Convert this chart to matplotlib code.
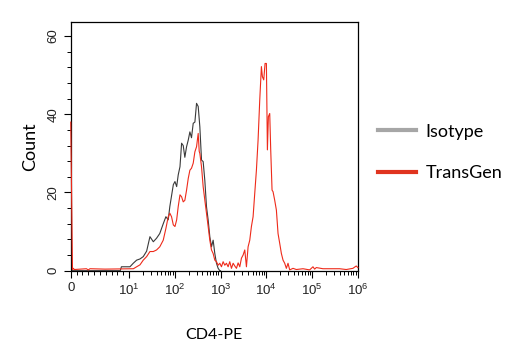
import matplotlib
matplotlib.use("Agg")
import matplotlib.pyplot as plt
from matplotlib.lines import Line2D
import numpy as np

# ---- data (channel value, count) ----
iso_x = [0, 8.5, 8.7, 10.5, 12.4, 14.7, 17.4, 20.5, 24.3, 28.7, 34, 40, 47, 56, 64, 72,
         78, 93, 101, 110, 119, 130, 141, 153, 166, 181, 197, 214, 232, 253, 275, 299,
         325, 353, 384, 417, 454, 493, 536, 583, 634, 689, 749, 815, 886, 963, 1000]
iso_y = [0, 0, 1.0, 1.0, 1.9, 2.7, 3.0, 3.6, 5.0, 8.7, 7.4, 8.3, 9.5, 12, 13.8, 13,
         16.4, 22, 22.8, 21.5, 24.5, 26.6, 32.6, 32, 29, 31.7, 33.4, 35.5, 34, 37.7, 38, 42.8,
         42, 36.8, 28.3, 27.9, 23, 16.4, 13, 8.7, 6.1, 7.8, 4.4, 1.9, 0.6, 0, 0]

tg_x = [0, 0.3, 0.46, 0.6, 2.7, 3.0, 3.3, 5.9, 12.5, 14.7, 17.4, 20.5, 24.3, 28.7, 34, 40,
        47, 56, 64, 72, 78, 85, 93, 101, 110, 119, 130, 141, 153, 166, 181, 197,
        214, 232, 253, 275, 299, 325, 342, 353, 384, 417, 454, 493, 536, 583, 634, 689,
        749, 815, 886, 963, 1047, 1138, 1238, 1345, 1463, 1590, 1731, 1883, 2047, 2226, 2420, 2631,
        2860, 3110, 3381, 3676, 3996, 4346, 4724, 5138, 5586, 6072, 6603, 7179, 7804, 8207, 8777, 9384,
        10035, 10550, 11093, 11862, 12469, 13335, 14022, 15245, 16580, 18026, 19601, 21311, 23168, 25190, 27384, 29770,
        32370, 38260, 45230, 63230, 88370, 104450, 113570, 123500, 172560, 285000, 398500, 556800, 778000, 919800, 1000000]
tg_y = [38, 0.3, 0.6, 0.3, 0.5, 0.2, 0.5, 0.4, 0.5, 1.0, 1.5, 2.7, 3.6, 4.9, 4.9, 5.3,
        6.1, 7.8, 10.8, 13.8, 14.7, 13.8, 11.7, 11.3, 13, 16.4, 19.4, 18.9, 17.6, 18, 20.6, 23.6,
        25.7, 26.2, 27.5, 30.4, 31.7, 35.1, 30.5, 30, 26.6, 21.5, 18, 14.7, 11.3, 7.8, 5.3, 4.4,
        2.7, 2.3, 1.4, 1.9, 1.0, 2.3, 1.4, 1.9, 1.0, 2.3, 0.6, 1.9, 1.2, 0.6, 2.0, 1.0,
        3.2, 4.0, 5.3, 1.0, 6.1, 7.8, 11.3, 13.8, 19.8, 25.7, 33.4, 43.6, 52.2, 49.6, 48.8, 53,
        53, 30.9, 39.4, 40.2, 30.9, 20.6, 20.2, 18, 15.5, 9.5, 7, 4.4, 2.7, 1.9, 0.6, 1.9,
        0.2, 0.6, 0.3, 0.5, 0.2, 1.0, 0.4, 0.8, 0.5, 0.5, 0.5, 0.3, 0.6, 1.2, 0.8]

x_ticks = [0, 10, 100, 1000, 10000, 100000, 1000000]
x_labels = ["0", r"$\mathregular{10^{1}}$", r"$\mathregular{10^{2}}$", r"$\mathregular{10^{3}}$",
            r"$\mathregular{10^{4}}$", r"$\mathregular{10^{5}}$", r"$\mathregular{10^{6}}$"]
y_ticks = [0, 20, 40, 60]
series_names = ["Isotype", "TransGen"]

plt.rcParams['font.family'] = ['Liberation Sans', 'DejaVu Sans']

fig = plt.figure(figsize=(5.24, 3.52), dpi=100)
ax = fig.add_axes([0.135, 0.231, 0.548, 0.7065])

ax.plot(iso_x, iso_y, color="#3a3a3a", lw=0.8)
ax.plot(tg_x, tg_y, color="#ee2a1a", lw=0.8, zorder=3, clip_on=False)

ax.set_xscale('symlog', linthresh=10, linscale=1.145)
ax.set_xlim(0, 1e6)
ax.set_ylim(0, 63.6)

ax.set_xticks(x_ticks)
ax.set_xticklabels(x_labels)
minor = list(range(1, 10))
for k in range(1, 6):
    minor += [m * 10 ** k for m in range(2, 10)]
ax.set_xticks(minor, minor=True)
ax.set_yticks(y_ticks)
ax.set_yticklabels([str(v) for v in y_ticks], rotation=90, va='center')
ax.set_yticks(np.arange(0, 64, 4), minor=True)

ax.tick_params(axis='both', which='major', length=5, width=0.8, labelsize=9.5,
               labelcolor='#222222', direction='out')
ax.tick_params(axis='both', which='minor', length=3, width=0.7, direction='out')
ax.tick_params(axis='y', pad=3)
for s in ax.spines.values():
    s.set_linewidth(0.9)

ax.set_ylabel("Count", fontsize=13, family=['Lato', 'DejaVu Sans'], labelpad=7)
ax.set_xlabel("CD4-PE", fontsize=11.5, family=['Lato', 'DejaVu Sans'], labelpad=22)

handles = [Line2D([], [], color="#a6a6a6", lw=3),
           Line2D([], [], color="#e0341f", lw=3)]
fig.legend(handles, series_names, loc='center left', bbox_to_anchor=(0.705, 0.567),
           frameon=False, prop={'family': ['Lato', 'DejaVu Sans'], 'size': 13},
           handlelength=2.1, handletextpad=0.5, labelspacing=1.4, borderpad=0)

fig.savefig("out.png", dpi=100)
